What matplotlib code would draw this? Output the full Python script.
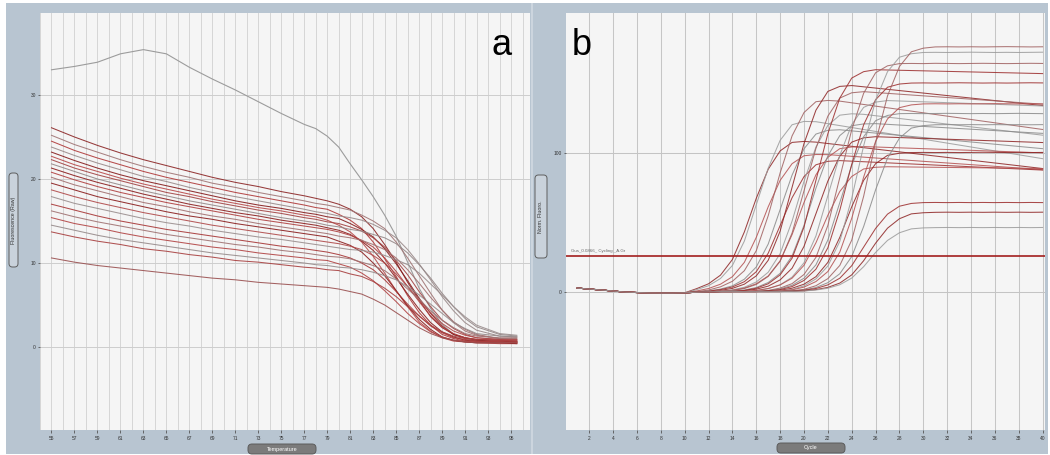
import matplotlib
matplotlib.use("Agg")
import matplotlib.pyplot as plt
from matplotlib.patches import Rectangle, FancyBboxPatch
from matplotlib.transforms import IdentityTransform

W, H = 1050, 455
plt.rcParams['font.family'] = ['Liberation Sans', 'DejaVu Sans']

# ---------------- Panel a : melt curves ----------------
melt_temps = [55, 57, 59, 61, 63, 65, 67, 69, 71, 73, 75, 77, 78, 79, 80, 81, 82, 83,
              84, 85, 86, 87, 88, 89, 90, 91, 92, 94, 95.5]
melt_ticks = [55, 57, 59, 61, 63, 65, 67, 69, 71, 73, 75, 77, 79, 81, 83, 85, 87, 89, 91, 93, 95]
melt_yticks = [0, 10, 20, 30]

grey_melt = [33.0, 33.4, 33.9, 34.9, 35.4, 34.9, 33.3, 31.9, 30.6, 29.2, 27.8, 26.5, 26.0, 25.1,
             23.8, 21.8, 19.9, 17.9, 15.7, 13.2, 10.1, 7.0, 4.6, 2.7, 1.5, 1.0, 0.7, 0.6, 0.6]

a01 = [26.1, 25.0, 24.0, 23.1, 22.3, 21.6, 20.9, 20.2, 19.6, 19.1, 18.5, 18.0, 17.7, 17.4, 17.0, 16.4, 15.5, 14.1, 12.2, 10.1, 7.7, 5.6, 3.6, 2.3, 1.5, 1.1, 0.9, 0.8, 0.7]
a02 = [25.2, 24.1, 23.2, 22.3, 21.5, 20.8, 20.2, 19.5, 19.0, 18.4, 17.9, 17.4, 17.1, 16.9, 16.6, 16.3, 15.7, 15.0, 14.1, 12.5, 10.6, 8.5, 6.4, 4.4, 2.9, 1.9, 1.4, 1.0, 0.9]
a03 = [24.5, 23.4, 22.5, 21.7, 20.9, 20.2, 19.6, 19.0, 18.4, 17.9, 17.4, 16.9, 16.6, 16.4, 15.8, 15.1, 14.1, 12.5, 10.5, 8.4, 6.1, 4.1, 2.6, 1.5, 1.0, 0.7, 0.6, 0.5, 0.5]
a04 = [23.8, 22.8, 21.9, 21.1, 20.3, 19.7, 19.0, 18.4, 17.9, 17.4, 16.9, 16.4, 16.1, 15.9, 15.6, 15.4, 15.1, 14.6, 13.9, 13.0, 11.6, 9.9, 8.0, 6.0, 4.3, 2.9, 2.0, 1.3, 1.2]
a05 = [23.2, 22.2, 21.3, 20.5, 19.8, 19.2, 18.6, 18.0, 17.4, 16.9, 16.5, 16.0, 15.8, 15.5, 15.3, 14.7, 14.0, 13.1, 11.7, 9.9, 7.9, 5.8, 4.0, 2.5, 1.5, 1.1, 0.8, 0.7, 0.6]
a06 = [22.7, 21.7, 20.9, 20.1, 19.4, 18.8, 18.2, 17.6, 17.1, 16.6, 16.2, 15.7, 15.5, 15.1, 14.5, 13.7, 12.5, 10.8, 8.8, 6.7, 4.8, 3.0, 1.9, 1.1, 0.7, 0.6, 0.5, 0.4, 0.4]
a07 = [22.3, 21.3, 20.5, 19.8, 19.1, 18.4, 17.9, 17.3, 16.8, 16.3, 15.9, 15.4, 15.2, 14.9, 14.7, 14.3, 13.8, 13.0, 11.9, 10.3, 8.6, 6.6, 4.8, 3.2, 2.2, 1.5, 1.1, 0.9, 0.8]
a08 = [21.8, 20.9, 20.0, 19.3, 18.6, 18.0, 17.4, 16.9, 16.4, 15.9, 15.4, 15.0, 14.8, 14.5, 14.3, 14.0, 13.8, 13.4, 13.0, 12.3, 11.2, 9.8, 8.2, 6.4, 4.8, 3.4, 2.4, 1.5, 1.3]
a09 = [21.3, 20.4, 19.6, 18.9, 18.2, 17.6, 17.0, 16.5, 16.0, 15.6, 15.1, 14.7, 14.5, 14.2, 13.9, 13.4, 12.6, 11.5, 10.0, 8.2, 6.3, 4.5, 2.9, 1.8, 1.2, 0.8, 0.7, 0.6, 0.5]
a10 = [20.8, 19.9, 19.1, 18.4, 17.8, 17.2, 16.7, 16.2, 15.7, 15.2, 14.8, 14.4, 14.2, 14.0, 13.7, 13.3, 12.7, 11.9, 10.6, 9.0, 7.2, 5.4, 3.7, 2.4, 1.6, 1.1, 0.9, 0.8, 0.7]
a11 = [20.2, 19.3, 18.6, 17.9, 17.2, 16.7, 16.1, 15.6, 15.2, 14.7, 14.3, 13.9, 13.7, 13.5, 13.2, 13.0, 12.7, 12.2, 11.6, 10.6, 9.2, 7.6, 5.9, 4.4, 3.0, 2.1, 1.5, 1.0, 1.0]
a12 = [19.5, 18.7, 17.9, 17.3, 16.7, 16.1, 15.6, 15.2, 14.7, 14.3, 13.9, 13.5, 13.3, 13.1, 12.6, 12.1, 11.3, 10.0, 8.5, 6.7, 4.9, 3.3, 2.1, 1.2, 0.8, 0.6, 0.5, 0.5, 0.4]
a13 = [18.7, 17.9, 17.2, 16.6, 16.0, 15.5, 15.0, 14.5, 14.1, 13.7, 13.3, 12.9, 12.7, 12.5, 12.3, 12.0, 11.6, 10.9, 10.0, 8.7, 7.2, 5.6, 4.1, 2.8, 1.9, 1.4, 1.1, 0.9, 0.9]
a14 = [17.9, 17.1, 16.5, 15.9, 15.3, 14.8, 14.4, 13.9, 13.5, 13.1, 12.8, 12.4, 12.2, 12.0, 11.8, 11.6, 11.5, 11.3, 10.9, 10.4, 9.8, 8.8, 7.5, 6.2, 4.8, 3.6, 2.6, 1.6, 1.4]
a15 = [17.0, 16.3, 15.6, 15.0, 14.5, 14.0, 13.6, 13.2, 12.8, 12.4, 12.0, 11.7, 11.5, 11.3, 11.0, 10.6, 10.0, 9.2, 8.0, 6.6, 5.1, 3.7, 2.5, 1.7, 1.1, 0.9, 0.7, 0.6, 0.6]
a16 = [16.2, 15.5, 14.9, 14.4, 13.9, 13.4, 13.0, 12.6, 12.2, 11.9, 11.5, 11.2, 11.0, 10.8, 10.7, 10.5, 10.1, 9.7, 9.1, 8.1, 6.9, 5.7, 4.3, 3.2, 2.3, 1.6, 1.3, 1.1, 1.1]
a17 = [15.4, 14.7, 14.2, 13.6, 13.1, 12.7, 12.3, 11.9, 11.6, 11.2, 10.9, 10.6, 10.4, 10.3, 9.9, 9.5, 8.8, 7.9, 6.7, 5.4, 4.0, 2.8, 1.8, 1.2, 0.8, 0.7, 0.6, 0.6, 0.5]
a18 = [14.5, 13.9, 13.3, 12.8, 12.4, 12.0, 11.6, 11.2, 10.9, 10.6, 10.3, 10.0, 9.8, 9.7, 9.5, 9.4, 9.2, 8.9, 8.5, 8.0, 7.2, 6.2, 5.1, 4.0, 2.9, 2.2, 1.6, 1.3, 1.2]
a19 = [13.7, 13.1, 12.6, 12.2, 11.7, 11.4, 11.0, 10.7, 10.3, 10.1, 9.8, 9.5, 9.4, 9.2, 9.1, 8.7, 8.4, 7.8, 7.0, 6.0, 4.8, 3.7, 2.6, 1.8, 1.3, 1.0, 0.9, 0.8, 0.7]
a20 = [10.6, 10.1, 9.7, 9.4, 9.1, 8.8, 8.5, 8.2, 8.0, 7.7, 7.5, 7.3, 7.2, 7.1, 6.9, 6.6, 6.3, 5.7, 5.0, 4.1, 3.2, 2.3, 1.6, 1.1, 0.8, 0.6, 0.5, 0.5, 0.5]

melt_colors = ['#8c2626', '#a07575', '#b03a3a', '#9a8a8a', '#861c1c', '#b84848', '#a34444',
               '#958888', '#8b1e1e', '#b04040', '#a27070', '#8b1e1e', '#b04a4a', '#9a8e8e',
               '#a83838', '#a07272', '#b24444', '#968a8a', '#a84040', '#9a5050']

# ---------------- Panel b : amplification curves ----------------
cycles = list(range(1, 41))
cycle_ticks = [2, 4, 6, 8, 10, 12, 14, 16, 18, 20, 22, 24, 26, 28, 30, 32, 34, 36, 38, 40]
amp_yticks = [0, 100]
threshold = 25.5
threshold_label = "Gus_0.0866_ Cycling _A.Gr"

baseline_b = [2.5, 1.8, 1.1, 0.4, -0.4, -0.7, -1.0, -1.1, -1.1, -0.9]   # cycles 1-10

b01 = [2.1, 5.6, 11.8, 23.1, 42.9, 67.1, 88.0, 101.2, 107.3, 108.0, 107.5, 106.5, 105.5, 104.5, 103.5, 102.5, 101.5, 100.5, 99.5, 98.5, 97.5, 96.5, 95.5, 94.5, 93.5, 92.5, 91.5, 90.5, 89.5, 88.5]
b02 = [1.4, 4.2, 9.4, 18.8, 36.3, 62.5, 88.8, 108.8, 120.0, 122.4, 122.2, 120.8, 119.4, 118.0, 116.6, 115.2, 113.8, 112.4, 111.0, 109.6, 108.2, 106.8, 105.4, 104.0, 102.6, 101.2, 99.8, 98.4, 97.0, 95.6]
b03 = [0.4, 2.2, 5.3, 10.7, 21.0, 39.0, 61.0, 80.0, 92.0, 97.7, 98.6, 98.5, 97.9, 97.3, 96.7, 96.1, 95.5, 94.9, 94.3, 93.7, 93.1, 92.5, 91.9, 91.3, 90.7, 90.1, 89.5, 88.9, 88.3, 87.7]
b04 = [-0.1, 1.1, 3.4, 7.4, 15.0, 29.4, 54.6, 85.4, 112.0, 128.8, 136.6, 137.5, 137.0, 135.8, 134.6, 133.4, 132.2, 131.0, 129.8, 128.6, 127.4, 126.2, 125.0, 123.8, 122.6, 121.4, 120.2, 119.0, 117.8, 116.6]
b05 = [-0.5, 0.4, 1.8, 4.1, 8.9, 17.7, 34.2, 59.0, 83.8, 102.7, 113.3, 116.0, 116.4, 115.6, 114.8, 114.0, 113.2, 112.4, 111.6, 110.8, 110.0, 109.2, 108.4, 107.6, 106.8, 106.0, 105.2, 104.4, 103.6, 102.8]
b06 = [-0.5, 0.3, 1.4, 3.3, 7.1, 14.3, 27.6, 47.5, 67.5, 82.7, 91.2, 93.7, 94.2, 93.8, 93.4, 93.0, 92.6, 92.2, 91.8, 91.4, 91.0, 90.6, 90.2, 89.8, 89.4, 89.0, 88.6, 88.2, 87.8, 87.4]
b07 = [-0.5, -0.2, 0.8, 2.3, 5.3, 11.3, 22.5, 43.5, 75.0, 106.5, 130.5, 144.0, 147.6, 148.2, 147.3, 146.4, 145.5, 144.6, 143.7, 142.8, 141.9, 141.0, 140.1, 139.2, 138.3, 137.4, 136.5, 135.6, 134.7, 133.8]
b08 = [-0.5, -0.2, 0.4, 1.2, 3.1, 6.9, 13.9, 27.3, 50.7, 79.3, 104.0, 119.6, 126.9, 127.9, 127.5, 126.5, 125.5, 124.5, 123.5, 122.5, 121.5, 120.5, 119.5, 118.5, 117.5, 116.5, 115.5, 114.5, 113.5, 112.5]
b09 = [-0.5, -0.2, 0.3, 0.9, 2.5, 5.6, 11.2, 22.1, 41.0, 64.1, 84.0, 96.6, 102.8, 104.0, 104.3, 104.0, 103.7, 103.4, 103.1, 102.8, 102.5, 102.2, 101.9, 101.6, 101.3, 101.0, 100.7, 100.4, 100.1, 99.8]
b10 = [-0.5, -0.2, 0.0, 0.7, 2.2, 5.1, 10.9, 21.8, 42.1, 72.5, 103.0, 126.2, 139.2, 143.0, 143.8, 143.2, 142.6, 142.0, 141.4, 140.8, 140.2, 139.6, 139.0, 138.4, 137.8, 137.2, 136.6, 136.0, 135.4, 134.8]
b11 = [-0.5, -0.2, 0.0, 0.4, 1.1, 2.9, 6.5, 13.1, 25.6, 47.6, 74.4, 97.6, 112.2, 119.3, 120.6, 120.8, 120.3, 119.8, 119.3, 118.8, 118.3, 117.8, 117.3, 116.8, 116.3, 115.8, 115.3, 114.8, 114.3, 113.8]
b12 = [-0.5, -0.2, 0.0, 0.0, 0.8, 2.4, 5.6, 12.0, 24.0, 46.4, 80.0, 113.6, 139.2, 153.6, 158.2, 159.6, 159.4, 159.2, 159.0, 158.8, 158.6, 158.4, 158.2, 158.0, 157.8, 157.6, 157.4, 157.2, 157.0, 156.8]
b13 = [-0.5, -0.2, 0.0, 0.0, 0.6, 1.7, 3.9, 8.4, 16.8, 32.5, 56.0, 79.5, 97.4, 107.5, 110.6, 111.4, 111.1, 110.8, 110.5, 110.2, 109.9, 109.6, 109.3, 109.0, 108.7, 108.4, 108.1, 107.8, 107.5, 107.2]
b14 = [-0.5, -0.2, 0.0, 0.0, 0.0, 0.7, 2.1, 4.8, 10.4, 20.7, 40.0, 69.0, 98.0, 120.1, 132.5, 136.3, 137.4, 137.1, 136.8, 136.5, 136.2, 135.9, 135.6, 135.3, 135.0, 134.7, 134.4, 134.1, 133.8, 133.5]
b15 = [-0.5, -0.2, 0.0, 0.0, 0.3, 0.8, 2.2, 4.8, 9.6, 18.9, 35.1, 54.9, 72.0, 82.8, 88.2, 89.4, 89.8, 89.7, 89.6, 89.5, 89.4, 89.3, 89.2, 89.1, 89.0, 88.9, 88.8, 88.7, 88.6, 88.5]
b16 = [-0.5, -0.2, 0.0, 0.0, 0.0, 0.0, 0.8, 2.5, 5.7, 12.3, 24.6, 47.6, 82.0, 116.4, 142.7, 157.4, 162.4, 164.0, 164.1, 164.0, 164.2, 164.1, 164.0, 164.1, 164.2, 164.1, 164.0, 164.1, 164.2, 164.1]
b17 = [-0.5, -0.2, 0.0, 0.0, 0.0, 0.0, 0.6, 1.9, 4.5, 9.6, 19.2, 37.1, 64.0, 90.9, 111.4, 122.9, 126.7, 128.0, 128.1, 128.0, 128.1, 128.2, 128.1, 128.0, 128.1, 128.0, 128.1, 128.2, 128.1, 128.0]
b18 = [-0.5, -0.2, 0.0, 0.0, 0.0, 0.0, 0.5, 1.4, 3.6, 8.0, 16.1, 31.5, 58.5, 91.5, 120.0, 138.0, 147.0, 149.3, 150.0, 150.1, 150.0, 150.1, 150.2, 150.1, 150.0, 150.1, 150.0, 150.1, 150.2, 150.1]
b19 = [-0.5, -0.2, 0.0, 0.0, 0.0, 0.0, 0.3, 0.9, 2.4, 5.3, 10.7, 21.0, 39.0, 61.0, 80.0, 92.0, 98.0, 99.5, 100.0, 100.1, 100.0, 100.1, 100.0, 100.1, 100.2, 100.1, 100.0, 100.1, 100.0, 100.1]
b20 = [-0.5, -0.2, 0.0, 0.0, 0.0, 0.0, 0.0, 0.5, 1.5, 4.1, 9.1, 18.4, 36.1, 67.1, 104.9, 137.6, 158.2, 168.6, 171.1, 172.0, 172.1, 172.0, 172.1, 172.2, 172.1, 172.0, 172.1, 172.0, 172.1, 172.2]
b21 = [-0.5, -0.2, 0.0, 0.0, 0.0, 0.0, 0.0, 0.4, 1.2, 3.2, 7.2, 14.4, 28.4, 52.7, 82.4, 108.0, 124.2, 132.3, 134.3, 135.0, 135.1, 135.0, 135.1, 135.0, 135.1, 135.2, 135.1, 135.0, 135.1, 135.0]
b22 = [-0.5, -0.2, 0.0, 0.0, 0.0, 0.0, 0.0, 0.0, 0.5, 1.6, 4.2, 9.3, 18.8, 37.0, 68.6, 107.4, 140.8, 161.9, 172.5, 175.1, 176.0, 176.1, 176.0, 176.1, 176.0, 176.1, 176.2, 176.1, 176.0, 176.1]
b23 = [-0.5, -0.2, 0.0, 0.0, 0.0, 0.0, 0.0, 0.0, 0.4, 1.1, 2.9, 6.4, 12.8, 25.2, 46.8, 73.2, 96.0, 110.4, 117.6, 119.4, 120.0, 120.1, 120.0, 120.1, 120.0, 120.1, 120.0, 120.1, 120.0, 120.1]
b24 = [-0.5, -0.2, 0.0, 0.0, 0.0, 0.0, 0.0, 0.0, 0.3, 1.0, 2.2, 4.8, 9.6, 18.6, 32.0, 45.4, 55.7, 61.4, 63.4, 64.0, 64.1, 64.0, 64.1, 64.0, 64.1, 64.0, 64.1, 64.0, 64.1, 64.0]
b25 = [-0.5, -0.2, 0.0, 0.0, 0.0, 0.0, 0.0, 0.0, 0.2, 0.5, 1.4, 3.0, 6.1, 12.0, 22.2, 34.8, 45.6, 52.4, 55.9, 56.7, 57.0, 57.1, 57.0, 57.1, 57.0, 57.1, 57.0, 57.1, 57.0, 57.1]
b26 = [-0.5, -0.2, 0.0, 0.0, 0.0, 0.0, 0.0, 0.0, 0.1, 0.4, 1.1, 2.4, 4.9, 9.7, 17.9, 28.1, 36.8, 42.3, 45.1, 45.8, 46.0, 46.1, 46.0, 46.1, 46.0, 46.1, 46.0, 46.1, 46.0, 46.1]

amp_colors = ['#8e2424', '#9b9b9b', '#b45050', '#a06060', '#8a8a8a', '#9c2c2c']

# ---------------- figure ----------------
melt_curves = [a01, a02, a03, a04, a05, a06, a07, a08, a09, a10,
               a11, a12, a13, a14, a15, a16, a17, a18, a19, a20]
amp_curves = [b01, b02, b03, b04, b05, b06, b07, b08, b09, b10, b11, b12, b13,
              b14, b15, b16, b17, b18, b19, b20, b21, b22, b23, b24, b25, b26]

fig = plt.figure(figsize=(W / 100, H / 100), dpi=100, facecolor='white')
IT = IdentityTransform()


def frac(x0, y0, x1, y1):
    return [x0 / W, 1 - y1 / H, (x1 - x0) / W, (y1 - y0) / H]


def pill(x0, y0, x1, y1, fc, ec, r=4.0):
    p = FancyBboxPatch((x0, H - y1), x1 - x0, y1 - y0,
                       boxstyle="round,pad=0,rounding_size=%g" % r,
                       transform=IT, fc=fc, ec=ec, lw=0.7, zorder=2)
    fig.add_artist(p)


# blue-grey frame behind both panels
fig.add_artist(Rectangle((6, H - 454), 1042, 451, transform=IT,
                         fc='#b8c5d1', ec='none', zorder=-10))
fig.add_artist(Rectangle((531, H - 454), 2, 451, transform=IT,
                         fc='#ccd5de', ec='none', zorder=-9))


def style_axes(ax):
    ax.set_facecolor('#f5f5f5')
    for s in ax.spines.values():
        s.set_visible(False)
    ax.set_axisbelow(True)
    ax.tick_params(which='minor', length=0)
    ax.tick_params(axis='x', which='major', length=2, width=0.6, color='#555555',
                   labelsize=3.5, labelcolor='#333333', pad=2)
    ax.tick_params(axis='y', which='major', length=1.5, width=0.6, color='#555555',
                   labelsize=3.5, labelcolor='#333333', pad=1.5)


# ---- panel a
ax_a = fig.add_axes(frac(40, 13, 530, 430))
style_axes(ax_a)
ax_a.set_xlim(54.13, 96.65)
ax_a.set_ylim(-9.88, 39.76)
ax_a.set_xticks(melt_ticks)
ax_a.set_xticks(range(54, 97), minor=True)
ax_a.set_yticks(melt_yticks)
ax_a.grid(True, which='both', axis='x', color='#d6d6d6', lw=0.7)
ax_a.grid(True, which='major', axis='y', color='#cdcdcd', lw=0.7)
ax_a.plot(melt_temps, grey_melt, color='#9c9c9c', lw=0.8, zorder=3)
for curve, col in zip(melt_curves, melt_colors):
    ax_a.plot(melt_temps, curve, color=col, lw=0.75, alpha=0.9, zorder=3)

# ---- panel b
ax_b = fig.add_axes(frac(566, 13, 1045, 430))
style_axes(ax_b)
ax_b.set_xlim(0.05, 40.2)
ax_b.set_ylim(-99.6, 200.4)
ax_b.set_xticks(cycle_ticks)
ax_b.set_yticks(amp_yticks)
ax_b.grid(True, which='major', axis='x', color='#c6c6c6', lw=0.75)
ax_b.grid(True, which='major', axis='y', color='#c4c4c4', lw=0.75)
for i, curve in enumerate(amp_curves):
    ax_b.plot(cycles, baseline_b + curve, color=amp_colors[i % len(amp_colors)],
              lw=0.75, alpha=0.85, zorder=3)
ax_b.axhline(threshold, color='#a31f1f', lw=1.2, zorder=4)
ax_b.text(0.5, threshold + 2.5, threshold_label, fontsize=3.2, color='#666666',
          va='bottom', ha='left', zorder=5)

# ---- axis title pills
pill(248, 444, 316, 454, '#7b7b7b', '#5c5c5c')
fig.text(282 / W, 1 - 449 / H, 'Temperature', fontsize=4, color='white',
         ha='center', va='center', zorder=3)
pill(777, 443, 845, 453, '#7b7b7b', '#5c5c5c')
fig.text(811 / W, 1 - 448 / H, 'Cycle', fontsize=4, color='white',
         ha='center', va='center', zorder=3)

pill(9, 173, 18, 267, '#c9d2db', '#5e5e5e', r=3.5)
fig.text(13.5 / W, 1 - 220 / H, 'Fluorescence (Raw)', fontsize=3.8, color='#333333',
         rotation=90, ha='center', va='center', zorder=3)
pill(535, 175, 547, 258, '#c9d2db', '#5e5e5e', r=3.5)
fig.text(541 / W, 1 - 216.5 / H, 'Norm. Fluoro.', fontsize=3.8, color='#333333',
         rotation=90, ha='center', va='center', zorder=3)

# ---- panel letters
fig.text(502 / W, 1 - 55 / H, 'a', fontsize=26, color='black', ha='center', va='baseline')
fig.text(582 / W, 1 - 55 / H, 'b', fontsize=26, color='black', ha='center', va='baseline')

fig.savefig('out.png', dpi=100, facecolor='white')
